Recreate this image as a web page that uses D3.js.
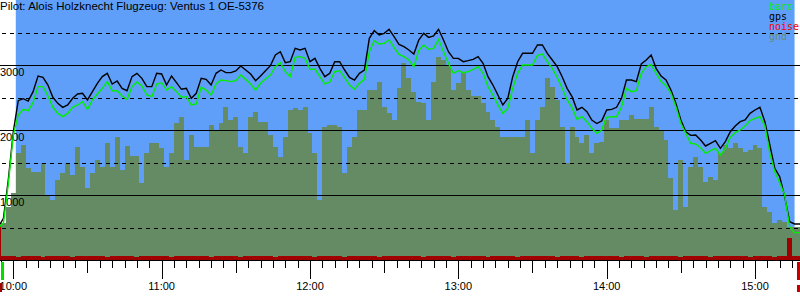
<!DOCTYPE html>
<html>
<head>
<meta charset="utf-8">
<script src="https://cdn.jsdelivr.net/npm/d3@7"></script>
<style>
body { margin: 0; background: #fff; }
svg { display: block; }
</style>
</head>
<body>
<div id="baro"></div>
<script>
// flight data, one sample every 2 minutes from 09:54
var pilot = "Pilot: Alois Holzknecht Flugzeug: Ventus 1 OE-5376";
var firstSample = "09:54:00";
var sampleMinutes = 2;

var gps = [
  510, 641, 1241, 1974, 2451, 2482, 2446, 2590, 2831, 2810,
  2692, 2503, 2410, 2349, 2385, 2487, 2554, 2564, 2462, 2590,
  2718, 2821, 2872, 2708, 2754, 2641, 2605, 2821, 2872, 2795,
  2667, 2667, 2872, 2862, 2692, 2831, 2728, 2626, 2641, 2487,
  2564, 2795, 2779, 2692, 2872, 2923, 2882, 2882, 2908, 2985,
  2923, 2862, 2759, 2831, 2913, 2990, 3154, 3205, 3036, 3051,
  3256, 3231, 3256, 3051, 3102, 2949, 2820, 2872, 3051, 3051,
  2923, 2810, 2769, 2872, 2923, 3410, 3528, 3462, 3487, 3549,
  3436, 3318, 3282, 3231, 3169, 3385, 3487, 3425, 3446, 3549,
  3385, 3205, 3102, 3102, 3051, 3067, 3087, 3128, 3026, 2820,
  2692, 2538, 2385, 2487, 2820, 3051, 3180, 3180, 3180, 3308,
  3308, 3180, 3077, 2974, 2820, 2641, 2513, 2308, 2349, 2282,
  2154, 2100, 2140, 2308, 2318, 2349, 2487, 2769, 2769, 2744,
  3015, 3077, 3154, 2949, 2831, 2769, 2615, 2410, 2154, 1974,
  1918, 1923, 1846, 1754, 1795, 1836, 1718, 1821, 1974, 2062,
  2128, 2154, 2256, 2308, 2349, 2128, 1769, 1410, 1282, 974,
  590, 554, 554, 554
];

var baro = [
  500, 564, 1179, 1923, 2231, 2318, 2297, 2420, 2667, 2667,
  2523, 2349, 2256, 2205, 2256, 2349, 2385, 2436, 2318, 2462,
  2554, 2641, 2744, 2605, 2605, 2523, 2472, 2667, 2738, 2677,
  2538, 2513, 2708, 2728, 2615, 2667, 2590, 2503, 2513, 2385,
  2400, 2656, 2615, 2538, 2708, 2769, 2759, 2744, 2759, 2846,
  2779, 2708, 2615, 2718, 2785, 2846, 2974, 3036, 2897, 2820,
  3118, 3128, 3102, 2933, 2938, 2820, 2708, 2738, 2897, 2913,
  2810, 2692, 2626, 2718, 2779, 3205, 3374, 3323, 3333, 3385,
  3272, 3164, 3128, 3077, 2974, 3221, 3308, 3241, 3256, 3395,
  3205, 3026, 2872, 2913, 2882, 2897, 2933, 2974, 2872, 2667,
  2538, 2385, 2256, 2333, 2641, 2872, 3000, 3000, 3000, 3149,
  3169, 3051, 2949, 2810, 2641, 2462, 2344, 2164, 2205, 2128,
  2026, 1949, 2000, 2195, 2205, 2205, 2349, 2641, 2590, 2605,
  2872, 2974, 3010, 2872, 2744, 2682, 2564, 2359, 2103, 1949,
  1795, 1785, 1728, 1641, 1682, 1718, 1615, 1718, 1887, 1959,
  2000, 2062, 2144, 2179, 2205, 2062, 1641, 1359, 1190, 1000,
  513, 421, 421, 421
];

var noise = [
  540, 64, 62, 66, 48, 63, 65, 62, 64, 50,
  63, 66, 62, 64, 62, 48, 65, 63, 62, 66,
  64, 62, 50, 63, 65, 62, 64, 63, 48, 65,
  62, 64, 63, 66, 62, 49, 64, 62, 65, 63,
  62, 66, 64, 48, 63, 62, 65, 64, 62, 50,
  65, 63, 62, 64, 66, 62, 48, 63, 65, 62,
  64, 62, 66, 63, 50, 64, 62, 65, 63, 62,
  48, 64, 63, 66, 62, 65, 62, 49, 64, 63,
  62, 65, 64, 62, 63, 66, 50, 62, 64, 63,
  65, 62, 48, 64, 63, 62, 66, 64, 62, 50,
  63, 65, 62, 64, 62, 48, 63, 66, 62, 64,
  62, 63, 65, 50, 64, 62, 63, 66, 48, 62,
  64, 63, 62, 65, 62, 64, 50, 63, 62, 66,
  62, 48, 64, 63, 65, 62, 64, 62, 50, 63,
  65, 62, 63, 64, 48, 62, 66, 63, 62, 64,
  62, 64, 50, 63, 62, 65, 62, 48, 64, 63,
  340, 66, 62, 62
];

var gnd = [
  500, 564, 821, 1026, 1641, 1769, 1410, 1359, 1359, 1487,
  1000, 923, 1231, 1333, 1487, 1308, 1744, 1436, 1103, 1333,
  1538, 1436, 1795, 1436, 1897, 1385, 1754, 1600, 1600, 1179,
  1641, 1795, 1795, 1718, 1436, 1641, 2103, 2205, 1538, 1923,
  1733, 1744, 1744, 2077, 2000, 2103, 2359, 2154, 2205, 1744,
  1641, 2205, 2282, 2128, 2128, 1923, 1744, 1590, 1897, 2308,
  2333, 2308, 2359, 1949, 1641, 923, 2051, 2077, 2077, 2051,
  1333, 1744, 1897, 2308, 2308, 2615, 2615, 2738, 2359, 2256,
  2154, 2641, 3026, 2795, 2590, 2436, 2410, 2154, 2744, 3128,
  3077, 3000, 2615, 2718, 2872, 2615, 2523, 2523, 2410, 2282,
  2154, 2051, 1897, 1897, 1897, 1897, 1897, 2154, 1641, 2154,
  2359, 2795, 2667, 2462, 2051, 1487, 2051, 1897, 1795, 1923,
  1641, 1800, 1821, 2154, 2026, 2026, 2154, 2154, 2231, 2164,
  2164, 2164, 2349, 2051, 2000, 1846, 1256, 769, 1538, 821,
  1436, 1590, 1436, 1205, 1282, 1231, 1641, 1769, 1718, 1795,
  1718, 1667, 1692, 1769, 1718, 821, 744, 564, 615, 590,
  513, 513, 513, 513
];

var legendNames = ["baro", "gps", "noise", "gnd"];
var legendColors = ["#00ee00", "#000000", "#ff0000", "#6a8c6a"];
var solidLevels = [1000, 2000, 3000];
var dashedLevels = [500, 1500, 2500, 3500];
var hourLabels = ["10:00", "11:00", "12:00", "13:00", "14:00", "15:00"];
var skyFrom = "10:01:00", skyTo = "15:16:00";
var takeoffTime = "09:55:26", landingTime = "15:17:23";

var W = 800, H = 300;
var parse = d3.timeParse("%H:%M:%S");
var parseHM = d3.timeParse("%H:%M");

var x = d3.scaleTime().domain([parse("09:54:37"), parse("15:18:12")]).range([0, W]);
var y = d3.scaleLinear().domain([0, 4000]).range([260, 0]);

var t0 = parse(firstSample);
var rows = gps.map(function(d, i) {
  return {
    t: d3.timeMinute.offset(t0, i * sampleMinutes),
    gps: d, baro: baro[i], noise: noise[i], gnd: gnd[i]
  };
});

var svg = d3.select("#baro").append("svg")
  .attr("width", W)
  .attr("height", H)
  .style("font-family", "'Liberation Sans', Arial, sans-serif");

// sky
svg.append("rect")
  .attr("x", x(parse(skyFrom)))
  .attr("y", 0)
  .attr("width", x(parse(skyTo)) - x(parse(skyFrom)))
  .attr("height", y(0))
  .style("fill", "#5f9ff9");

// ground
svg.append("path")
  .datum(rows)
  .attr("d", d3.area().curve(d3.curveStep)
    .x(function(d) { return x(d.t); })
    .y0(y(0))
    .y1(function(d) { return y(d.gnd); }))
  .attr("shape-rendering", "crispEdges")
  .style("fill", "#658b65");

// height lines
svg.selectAll(".solid").data(solidLevels).enter().append("line")
  .attr("x1", 0).attr("x2", W)
  .attr("y1", function(d) { return Math.round(y(d)) + 0.5; })
  .attr("y2", function(d) { return Math.round(y(d)) + 0.5; })
  .attr("shape-rendering", "crispEdges")
  .style("stroke", "#000");

svg.selectAll(".dashed").data(dashedLevels).enter().append("line")
  .attr("x1", 2).attr("x2", W)
  .attr("y1", function(d) { return Math.round(y(d)) + 0.5; })
  .attr("y2", function(d) { return Math.round(y(d)) + 0.5; })
  .attr("shape-rendering", "crispEdges")
  .style("stroke", "#000")
  .style("stroke-dasharray", "4,4");

svg.selectAll(".ylab").data(solidLevels).enter().append("text")
  .attr("x", 0)
  .attr("y", function(d) { return y(d) + 11; })
  .style("font-size", "11px")
  .text(function(d) { return d; });

// noise
svg.append("path")
  .datum(rows)
  .attr("d", d3.area().curve(d3.curveStep)
    .x(function(d) { return x(d.t); })
    .y0(y(0))
    .y1(function(d) { return y(d.noise); }))
  .attr("shape-rendering", "crispEdges")
  .style("fill", "#a00000");

// gps and baro
svg.append("path")
  .datum(rows)
  .attr("d", d3.line()
    .x(function(d) { return x(d.t); })
    .y(function(d) { return y(d.gps); }))
  .style("fill", "none")
  .style("stroke", "#000")
  .style("stroke-width", 1.4);

svg.append("path")
  .datum(rows)
  .attr("d", d3.line()
    .x(function(d) { return x(d.t); })
    .y(function(d) { return y(d.baro); }))
  .style("fill", "none")
  .style("stroke", "#00ee00")
  .style("stroke-width", 1.4);

// time axis
svg.append("line")
  .attr("x1", 0).attr("x2", W)
  .attr("y1", y(0) + 0.5).attr("y2", y(0) + 0.5)
  .attr("shape-rendering", "crispEdges")
  .style("stroke", "#000");

var ticks = x.ticks(d3.timeMinute.every(5));
svg.selectAll(".tick").data(ticks).enter().append("line")
  .attr("x1", function(d) { return Math.round(x(d)) + 0.5; })
  .attr("x2", function(d) { return Math.round(x(d)) + 0.5; })
  .attr("y1", 261)
  .attr("y2", function(d) {
    var m = d.getMinutes();
    return 262 + (m == 0 ? 17 : (m == 30 ? 11 : 6));
  })
  .attr("shape-rendering", "crispEdges")
  .style("stroke", "#000");

svg.selectAll(".xlab").data(hourLabels).enter().append("text")
  .attr("x", function(d) { return x(parseHM(d)); })
  .attr("y", 290)
  .attr("text-anchor", "middle")
  .style("font-size", "11px")
  .text(function(d) { return d; });

// takeoff / landing marks
svg.append("rect")
  .attr("x", x(parse(takeoffTime)) - 1).attr("y", 262)
  .attr("width", 3).attr("height", 18)
  .style("fill", "#00dd00");
svg.append("rect")
  .attr("x", x(parse(takeoffTime)) - 3).attr("y", 283)
  .attr("width", 3).attr("height", 9)
  .style("fill", "#a00000");
svg.append("rect")
  .attr("x", x(parse(landingTime)) - 1).attr("y", 262)
  .attr("width", 3).attr("height", 18)
  .style("fill", "#c00000");
svg.append("rect")
  .attr("x", x(parse(landingTime)) - 1).attr("y", 285)
  .attr("width", 3).attr("height", 7)
  .style("fill", "#c00000");

// title and legend
svg.append("text")
  .attr("x", 0).attr("y", 10)
  .style("font-size", "11.5px")
  .text(pilot);

svg.selectAll(".leg").data(legendNames).enter().append("text")
  .attr("x", 769)
  .attr("y", function(d, i) { return 10 + i * 10; })
  .style("font-family", "'DejaVu Sans Mono', monospace")
  .style("font-size", "10px")
  .style("fill", function(d, i) { return legendColors[i]; })
  .text(function(d) { return d; });
</script>
</body>
</html>
